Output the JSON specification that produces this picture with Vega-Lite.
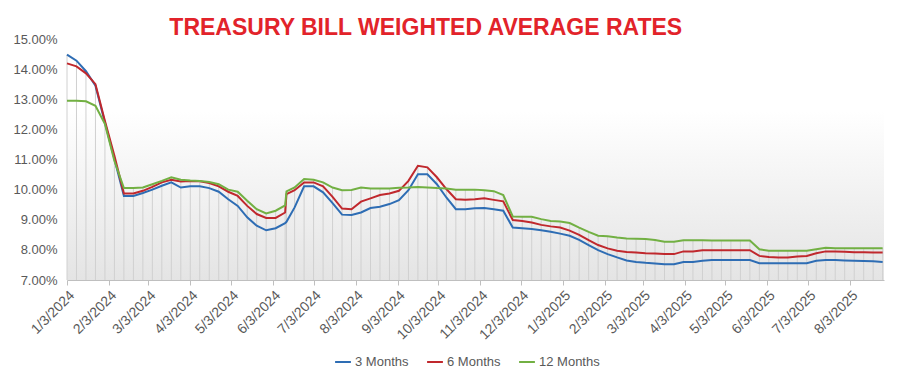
{
  "$schema": "https://vega.github.io/schema/vega-lite/v6.json",
  "width": 817,
  "height": 241,
  "padding": {"left": 12, "top": 17, "right": 17, "bottom": 5},
  "background": "white",
  "title": {
    "text": "TREASURY BILL WEIGHTED AVERAGE RATES",
    "color": "#e2232a",
    "font": "Liberation Sans",
    "fontSize": 23,
    "fontWeight": "bold",
    "anchor": "middle",
    "frame": "bounds",
    "dx": -24,
    "offset": -7
  },
  "data": {
    "values": [
      {"date": "2024-01-03", "3 Months": 14.48, "6 Months": 14.19, "12 Months": 12.95},
      {"date": "2024-01-10", "3 Months": 14.28, "6 Months": 14.09, "12 Months": 12.95},
      {"date": "2024-01-17", "3 Months": 13.93, "6 Months": 13.86, "12 Months": 12.93},
      {"date": "2024-01-24", "3 Months": 13.45, "6 Months": 13.5, "12 Months": 12.78},
      {"date": "2024-01-31", "3 Months": 12.22, "6 Months": 12.28, "12 Months": 12.18},
      {"date": "2024-02-07", "3 Months": 11.02, "6 Months": 11.12, "12 Months": 10.95},
      {"date": "2024-02-14", "3 Months": 9.79, "6 Months": 9.87, "12 Months": 10.05},
      {"date": "2024-02-21", "3 Months": 9.79, "6 Months": 9.87, "12 Months": 10.05},
      {"date": "2024-02-28", "3 Months": 9.89, "6 Months": 9.96, "12 Months": 10.07},
      {"date": "2024-03-06", "3 Months": 10.0, "6 Months": 10.09, "12 Months": 10.18},
      {"date": "2024-03-13", "3 Months": 10.13, "6 Months": 10.24, "12 Months": 10.29},
      {"date": "2024-03-20", "3 Months": 10.24, "6 Months": 10.33, "12 Months": 10.41},
      {"date": "2024-03-27", "3 Months": 10.07, "6 Months": 10.27, "12 Months": 10.33},
      {"date": "2024-04-03", "3 Months": 10.11, "6 Months": 10.29, "12 Months": 10.3},
      {"date": "2024-04-10", "3 Months": 10.11, "6 Months": 10.28, "12 Months": 10.29},
      {"date": "2024-04-17", "3 Months": 10.05, "6 Months": 10.22, "12 Months": 10.25},
      {"date": "2024-04-24", "3 Months": 9.93, "6 Months": 10.11, "12 Months": 10.18},
      {"date": "2024-05-01", "3 Months": 9.68, "6 Months": 9.93, "12 Months": 10.0},
      {"date": "2024-05-08", "3 Months": 9.46, "6 Months": 9.79, "12 Months": 9.93},
      {"date": "2024-05-15", "3 Months": 9.08, "6 Months": 9.46, "12 Months": 9.63},
      {"date": "2024-05-22", "3 Months": 8.8, "6 Months": 9.19, "12 Months": 9.35},
      {"date": "2024-05-29", "3 Months": 8.65, "6 Months": 9.06, "12 Months": 9.21},
      {"date": "2024-06-05", "3 Months": 8.72, "6 Months": 9.06, "12 Months": 9.3},
      {"date": "2024-06-12", "3 Months": 8.89, "6 Months": 9.24, "12 Months": 9.48},
      {"date": "2024-06-13", "3 Months": 8.93, "6 Months": 9.85, "12 Months": 9.94},
      {"date": "2024-06-19", "3 Months": 9.41, "6 Months": 9.98, "12 Months": 10.07},
      {"date": "2024-06-26", "3 Months": 10.11, "6 Months": 10.24, "12 Months": 10.35},
      {"date": "2024-07-03", "3 Months": 10.11, "6 Months": 10.24, "12 Months": 10.33},
      {"date": "2024-07-10", "3 Months": 9.91, "6 Months": 10.11, "12 Months": 10.24},
      {"date": "2024-07-17", "3 Months": 9.55, "6 Months": 9.76, "12 Months": 10.07},
      {"date": "2024-07-24", "3 Months": 9.17, "6 Months": 9.37, "12 Months": 9.98},
      {"date": "2024-07-31", "3 Months": 9.16, "6 Months": 9.35, "12 Months": 9.99},
      {"date": "2024-08-07", "3 Months": 9.24, "6 Months": 9.6, "12 Months": 10.07},
      {"date": "2024-08-14", "3 Months": 9.39, "6 Months": 9.71, "12 Months": 10.04},
      {"date": "2024-08-21", "3 Months": 9.43, "6 Months": 9.82, "12 Months": 10.04},
      {"date": "2024-08-28", "3 Months": 9.52, "6 Months": 9.87, "12 Months": 10.04},
      {"date": "2024-09-04", "3 Months": 9.65, "6 Months": 9.96, "12 Months": 10.06},
      {"date": "2024-09-11", "3 Months": 9.98, "6 Months": 10.29, "12 Months": 10.07},
      {"date": "2024-09-18", "3 Months": 10.51, "6 Months": 10.79, "12 Months": 10.09},
      {"date": "2024-09-25", "3 Months": 10.51, "6 Months": 10.74, "12 Months": 10.07},
      {"date": "2024-10-02", "3 Months": 10.18, "6 Months": 10.41, "12 Months": 10.05},
      {"date": "2024-10-09", "3 Months": 9.74, "6 Months": 10.02, "12 Months": 10.04},
      {"date": "2024-10-16", "3 Months": 9.35, "6 Months": 9.68, "12 Months": 10.0},
      {"date": "2024-10-23", "3 Months": 9.35, "6 Months": 9.66, "12 Months": 10.0},
      {"date": "2024-10-30", "3 Months": 9.38, "6 Months": 9.68, "12 Months": 10.0},
      {"date": "2024-11-06", "3 Months": 9.39, "6 Months": 9.71, "12 Months": 9.98},
      {"date": "2024-11-13", "3 Months": 9.35, "6 Months": 9.66, "12 Months": 9.95},
      {"date": "2024-11-20", "3 Months": 9.3, "6 Months": 9.61, "12 Months": 9.82},
      {"date": "2024-11-27", "3 Months": 8.74, "6 Months": 8.99, "12 Months": 9.11},
      {"date": "2024-12-04", "3 Months": 8.72, "6 Months": 8.96, "12 Months": 9.1},
      {"date": "2024-12-11", "3 Months": 8.69, "6 Months": 8.91, "12 Months": 9.1},
      {"date": "2024-12-18", "3 Months": 8.65, "6 Months": 8.83, "12 Months": 9.02},
      {"date": "2024-12-25", "3 Months": 8.6, "6 Months": 8.78, "12 Months": 8.96},
      {"date": "2025-01-01", "3 Months": 8.54, "6 Months": 8.74, "12 Months": 8.94},
      {"date": "2025-01-08", "3 Months": 8.47, "6 Months": 8.64, "12 Months": 8.89},
      {"date": "2025-01-15", "3 Months": 8.33, "6 Months": 8.5, "12 Months": 8.74},
      {"date": "2025-01-22", "3 Months": 8.16, "6 Months": 8.32, "12 Months": 8.6},
      {"date": "2025-01-29", "3 Months": 7.99, "6 Months": 8.16, "12 Months": 8.47},
      {"date": "2025-02-05", "3 Months": 7.86, "6 Months": 8.05, "12 Months": 8.45},
      {"date": "2025-02-12", "3 Months": 7.75, "6 Months": 7.97, "12 Months": 8.41},
      {"date": "2025-02-19", "3 Months": 7.65, "6 Months": 7.93, "12 Months": 8.38},
      {"date": "2025-02-26", "3 Months": 7.6, "6 Months": 7.91, "12 Months": 8.37},
      {"date": "2025-03-05", "3 Months": 7.57, "6 Months": 7.89, "12 Months": 8.36},
      {"date": "2025-03-12", "3 Months": 7.55, "6 Months": 7.88, "12 Months": 8.33},
      {"date": "2025-03-19", "3 Months": 7.52, "6 Months": 7.86, "12 Months": 8.27},
      {"date": "2025-03-26", "3 Months": 7.52, "6 Months": 7.86, "12 Months": 8.27},
      {"date": "2025-04-02", "3 Months": 7.6, "6 Months": 7.95, "12 Months": 8.32},
      {"date": "2025-04-09", "3 Months": 7.6, "6 Months": 7.95, "12 Months": 8.32},
      {"date": "2025-04-16", "3 Months": 7.64, "6 Months": 7.99, "12 Months": 8.32},
      {"date": "2025-04-23", "3 Months": 7.66, "6 Months": 7.99, "12 Months": 8.31},
      {"date": "2025-04-30", "3 Months": 7.66, "6 Months": 7.99, "12 Months": 8.31},
      {"date": "2025-05-07", "3 Months": 7.66, "6 Months": 7.99, "12 Months": 8.31},
      {"date": "2025-05-14", "3 Months": 7.66, "6 Months": 7.99, "12 Months": 8.31},
      {"date": "2025-05-21", "3 Months": 7.66, "6 Months": 7.99, "12 Months": 8.31},
      {"date": "2025-05-28", "3 Months": 7.56, "6 Months": 7.8, "12 Months": 8.02},
      {"date": "2025-06-04", "3 Months": 7.56, "6 Months": 7.76, "12 Months": 7.97},
      {"date": "2025-06-11", "3 Months": 7.56, "6 Months": 7.75, "12 Months": 7.97},
      {"date": "2025-06-18", "3 Months": 7.56, "6 Months": 7.75, "12 Months": 7.97},
      {"date": "2025-06-25", "3 Months": 7.56, "6 Months": 7.78, "12 Months": 7.97},
      {"date": "2025-07-02", "3 Months": 7.56, "6 Months": 7.8, "12 Months": 7.97},
      {"date": "2025-07-09", "3 Months": 7.64, "6 Months": 7.89, "12 Months": 8.02},
      {"date": "2025-07-16", "3 Months": 7.66, "6 Months": 7.95, "12 Months": 8.07},
      {"date": "2025-07-23", "3 Months": 7.66, "6 Months": 7.95, "12 Months": 8.05},
      {"date": "2025-07-30", "3 Months": 7.65, "6 Months": 7.94, "12 Months": 8.05},
      {"date": "2025-08-06", "3 Months": 7.64, "6 Months": 7.92, "12 Months": 8.05},
      {"date": "2025-08-13", "3 Months": 7.63, "6 Months": 7.92, "12 Months": 8.05},
      {"date": "2025-08-20", "3 Months": 7.62, "6 Months": 7.91, "12 Months": 8.05},
      {"date": "2025-08-27", "3 Months": 7.6, "6 Months": 7.91, "12 Months": 8.05}
    ]
  },
  "transform": [
    {"fold": ["3 Months", "6 Months", "12 Months"], "as": ["series", "value"]}
  ],
  "encoding": {
    "x": {
      "field": "date",
      "type": "temporal",
      "scale": {
        "type": "utc",
        "nice": false,
        "domain": [
          {"year": 2024, "month": 1, "date": 3, "utc": true},
          {"year": 2025, "month": 8, "date": 28, "utc": true}
        ]
      },
      "axis": {
        "title": null,
        "labelExpr": "utcFormat(datum.value, '%-m/%-d/%Y')",
        "labelAngle": -45,
        "labelFont": "Liberation Sans",
        "labelFontSize": 14,
        "labelColor": "#595959",
        "labelPadding": 3,
        "tickSize": 5,
        "tickColor": "#bfbfbf",
        "domainColor": "#bfbfbf",
        "grid": false,
        "labelOverlap": false,
        "values": [
          {"year": 2024, "month": 1, "date": 3, "utc": true},
          {"year": 2024, "month": 2, "date": 3, "utc": true},
          {"year": 2024, "month": 3, "date": 3, "utc": true},
          {"year": 2024, "month": 4, "date": 3, "utc": true},
          {"year": 2024, "month": 5, "date": 3, "utc": true},
          {"year": 2024, "month": 6, "date": 3, "utc": true},
          {"year": 2024, "month": 7, "date": 3, "utc": true},
          {"year": 2024, "month": 8, "date": 3, "utc": true},
          {"year": 2024, "month": 9, "date": 3, "utc": true},
          {"year": 2024, "month": 10, "date": 3, "utc": true},
          {"year": 2024, "month": 11, "date": 3, "utc": true},
          {"year": 2024, "month": 12, "date": 3, "utc": true},
          {"year": 2025, "month": 1, "date": 3, "utc": true},
          {"year": 2025, "month": 2, "date": 3, "utc": true},
          {"year": 2025, "month": 3, "date": 3, "utc": true},
          {"year": 2025, "month": 4, "date": 3, "utc": true},
          {"year": 2025, "month": 5, "date": 3, "utc": true},
          {"year": 2025, "month": 6, "date": 3, "utc": true},
          {"year": 2025, "month": 7, "date": 3, "utc": true},
          {"year": 2025, "month": 8, "date": 3, "utc": true}
        ]
      }
    }
  },
  "layer": [
    {
      "mark": {"type": "rule", "color": "#d0d0d0", "strokeWidth": 1},
      "encoding": {
        "y": {
          "aggregate": "max",
          "field": "value",
          "type": "quantitative",
          "scale": {"domain": [7, 15], "nice": false},
          "axis": {
            "title": null,
            "values": [7, 8, 9, 10, 11, 12, 13, 14, 15],
            "labelExpr": "format(datum.value, '.2f') + '%'",
            "labelFont": "Liberation Sans",
            "labelFontSize": 13,
            "labelColor": "#595959",
            "labelPadding": 10,
            "domain": false,
            "ticks": false,
            "grid": false
          }
        },
        "y2": {"datum": 7}
      }
    },
    {
      "mark": {"type": "line", "strokeWidth": 2},
      "encoding": {
        "y": {
          "field": "value",
          "type": "quantitative",
          "scale": {"domain": [7, 15], "nice": false},
          "axis": {
            "title": null,
            "values": [7, 8, 9, 10, 11, 12, 13, 14, 15],
            "labelExpr": "format(datum.value, '.2f') + '%'",
            "labelFont": "Liberation Sans",
            "labelFontSize": 13,
            "labelColor": "#595959",
            "labelPadding": 10,
            "domain": false,
            "ticks": false,
            "grid": false
          }
        },
        "color": {
          "field": "series",
          "type": "nominal",
          "scale": {"domain": ["3 Months", "6 Months", "12 Months"], "range": ["#2e6db4", "#c0282d", "#72b043"]},
          "legend": {
            "orient": "none",
            "legendX": 267,
            "legendY": 314,
            "title": null,
            "direction": "horizontal",
            "symbolType": "stroke",
            "symbolStrokeWidth": 2,
            "symbolSize": 250,
            "labelOffset": 3,
            "labelFont": "Liberation Sans",
            "labelFontSize": 13,
            "labelColor": "#595959",
            "columnPadding": 14
          }
        }
      }
    }
  ],
  "config": {
    "view": {
      "stroke": null,
      "fill": {
        "gradient": "linear",
        "x1": 0, "y1": 0, "x2": 0, "y2": 1,
        "stops": [
          {"offset": 0, "color": "#ffffff"},
          {"offset": 0.3, "color": "#ffffff"},
          {"offset": 1, "color": "#e4e4e4"}
        ]
      }
    }
  }
}
